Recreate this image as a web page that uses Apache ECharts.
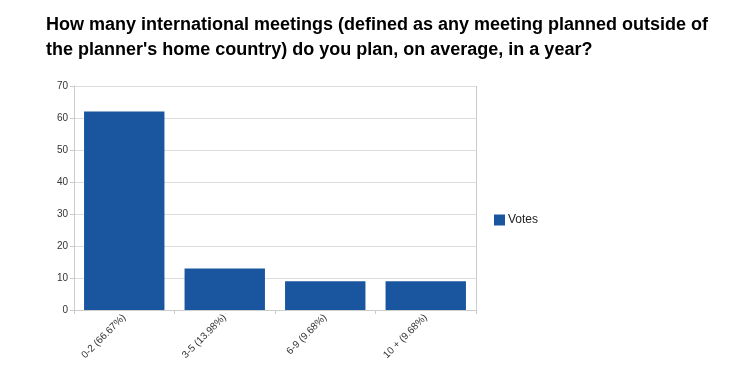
<!DOCTYPE html>
<html><head><meta charset="utf-8">
<script src="https://cdn.jsdelivr.net/npm/echarts@6/dist/echarts.min.js"></script>
<style>html,body{margin:0;padding:0;background:#fff}#c{width:754px;height:368px}</style>
</head><body><div id="c"></div>
<script>
var titleText = "How many international meetings (defined as any meeting planned outside of\nthe planner's home country) do you plan, on average, in a year?";
var categories = ["0-2 (66.67%)", "3-5 (13.98%)", "6-9 (9.68%)", "10 + (9.68%)"];
var votes = [62, 13, 9, 9];
var seriesName = "Votes";
var chart = echarts.init(document.getElementById('c'));
chart.setOption({
  animation: false,
  backgroundColor: '#fff',
  title: {
    text: titleText, left: 41, top: 8,
    textStyle: { fontFamily: 'Liberation Sans, Arial', fontSize: 18, fontWeight: 'bold', color: '#000', lineHeight: 25 }
  },
  legend: {
    orient: 'vertical', left: 489, top: 209, itemWidth: 11, itemHeight: 11, itemGap: 4,
    icon: 'rect',
    textStyle: { fontFamily: 'Liberation Sans, Arial', fontSize: 12, color: '#222', padding: [0,0,0,-2] },
    data: [seriesName]
  },
  grid: { left: 74, right: 278, top: 86, bottom: 58 },
  xAxis: {
    type: 'category', data: categories,
    axisLine: { lineStyle: { color: '#ccc', width: 1 } },
    axisTick: { show: true, length: 4, lineStyle: { color: '#ccc' } },
    axisLabel: { rotate: 45, fontFamily: 'Liberation Sans, Arial', fontSize: 10, color: '#333', margin: 6 },
    splitLine: { show: false }
  },
  yAxis: {
    type: 'value', min: 0, max: 70, interval: 10,
    axisLine: { show: true, lineStyle: { color: '#ccc' } },
    axisTick: { show: true, length: 4, lineStyle: { color: '#ccc' } },
    axisLabel: { fontFamily: 'Liberation Sans, Arial', fontSize: 10, color: '#333', margin: 6 },
    splitLine: { lineStyle: { color: '#ddd' } }
  },
  series: [{
    name: seriesName, type: 'bar', data: votes, barCategoryGap: '20%',
    itemStyle: { color: '#1a56a0' }
  }]
});
var rightX = 754 - 278, topY = 86, botY = 368 - 58;
chart.setOption({ graphic: [{ type: 'line', shape: { x1: rightX + 0.5, y1: topY, x2: rightX + 0.5, y2: botY }, style: { stroke: '#ccc', lineWidth: 1 } }] });
</script></body></html>
